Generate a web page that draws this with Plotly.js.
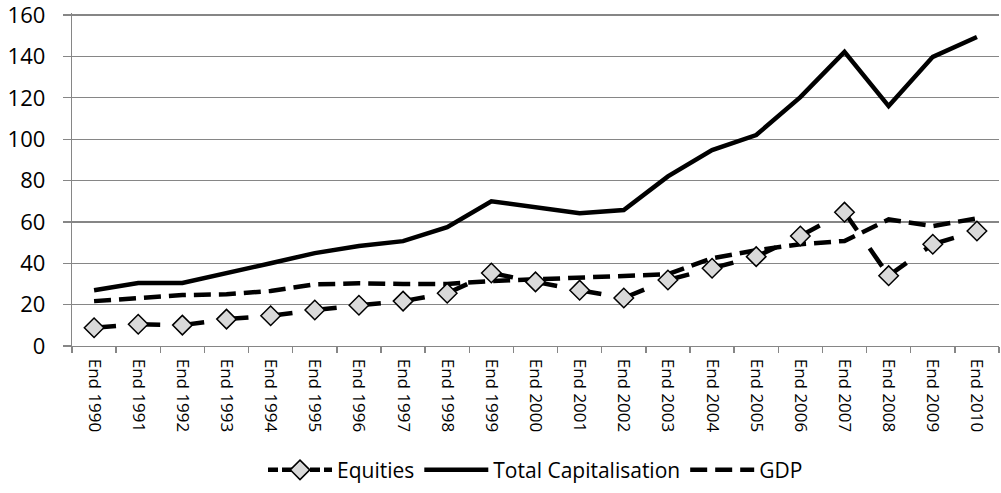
<!DOCTYPE html>
<html>
<head>
<meta charset="utf-8">
<script src="https://cdn.plot.ly/plotly-3.0.1.min.js"></script>
<style>html,body{margin:0;padding:0;background:#fff;}#chart{width:1001px;height:493px;}</style>
</head>
<body>
<div id="chart"></div>
<script>
const categories = ["End 1990","End 1991","End 1992","End 1993","End 1994","End 1995","End 1996","End 1997","End 1998","End 1999","End 2000","End 2001","End 2002","End 2003","End 2004","End 2005","End 2006","End 2007","End 2008","End 2009","End 2010"];
const equities = [8.8,10.5,10.1,13,14.6,17.4,19.7,21.7,25.5,35.3,31,27,23.2,31.9,37.6,43.2,53.2,64.7,34,49.2,55.6];
const totalCap = [27,30.4,30.5,35.5,40,44.9,48.3,50.7,57.5,70,67,64.2,65.7,82,94.7,102,120.3,142.2,116,139.8,149.4];
const gdp = [21.7,23,24.6,25,26.6,29.8,30.3,30,30,31.4,32.2,32.8,33.5,34.7,42.4,46.3,49.2,50.8,61.2,58,61.7];
const yTicks = [0,20,40,60,80,100,120,140,160];

const font = "Open Sans, Liberation Sans, sans-serif";
const eqDash = "22px,22px";
const traces = [];
// Equities line: each segment restarts its dash pattern (as in the original)
for (let i = 0; i < categories.length - 1; i++) {
  traces.push({x: [categories[i], categories[i+1]], y: [equities[i], equities[i+1]],
    type: "scatter", mode: "lines", showlegend: false, hoverinfo: "skip",
    line: {color: "#000", width: 4.5, dash: eqDash}});
}
traces.push({x: categories, y: totalCap, name: "Total Capitalisation", type: "scatter", mode: "lines",
   line: {color: "#000", width: 4.5}, legendrank: 2});
traces.push({x: categories, y: gdp, name: "GDP", type: "scatter", mode: "lines",
   line: {color: "#000", width: 4.5, dash: "17px,8px"}, legendrank: 3});
// Equities markers
traces.push({x: categories, y: equities, name: "Equities", type: "scatter", mode: "markers",
   marker: {symbol: "diamond", size: 15, color: "#d9d9d9", line: {color: "#000", width: 1.5}},
   showlegend: false});
// Equities legend entry (line + diamond)
traces.push({x: [null], y: [null], name: "Equities", type: "scatter", mode: "lines+markers",
   line: {color: "#000", width: 4.5, dash: "10px,4px"},
   marker: {symbol: "diamond", size: 15, color: "#d9d9d9", line: {color: "#000", width: 1.5}},
   legendrank: 1});

const layout = {
  width: 1001, height: 493,
  margin: {l: 72, r: 2, t: 13, b: 147},
  paper_bgcolor: "#fff", plot_bgcolor: "#fff",
  font: {family: font, color: "#000"},
  showlegend: true,
  legend: {orientation: "h", x: 0.5, xanchor: "center", y: -0.373, yanchor: "middle",
           font: {size: 21, family: font}, itemwidth: 64, traceorder: "normal"},
  xaxis: {type: "category", range: [-0.5, 20.5], tickangle: 90, tickson: "boundaries",
          ticks: "outside", ticklen: 6, tickcolor: "#868686", tickwidth: 1.3,
          showline: true, linecolor: "#868686", linewidth: 1.3, showgrid: false,
          ticklabelstandoff: 8,
          tickfont: {size: 17, family: font}, fixedrange: true, automargin: false},
  yaxis: {range: [0, 161], tickvals: yTicks, ticktext: yTicks.map(String),
          ticks: "outside", ticklen: 8, tickcolor: "#868686", tickwidth: 1.3,
          showline: true, linecolor: "#868686", linewidth: 1.3,
          showgrid: true, gridcolor: "#868686", gridwidth: 1.3, zeroline: false,
          ticklabelstandoff: 13, ticklabeloverflow: "allow",
          tickfont: {size: 22, family: font}, fixedrange: true, automargin: false}
};
Plotly.newPlot("chart", traces, layout, {displayModeBar: false, staticPlot: true});
</script>
</body>
</html>
